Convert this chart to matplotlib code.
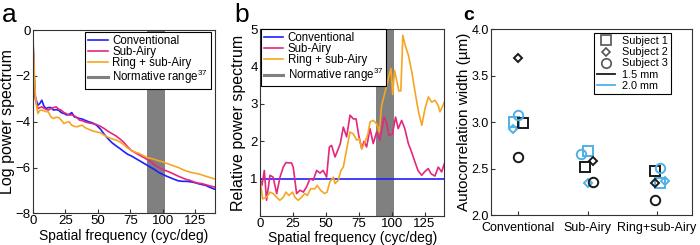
import matplotlib
matplotlib.use("Agg")
import matplotlib.pyplot as plt
from matplotlib.lines import Line2D

plt.rcParams["font.family"] = ["Liberation Sans", "DejaVu Sans"]
plt.rcParams["mathtext.default"] = "regular"

# ---- panel a: log power spectrum ----
freq_a = [0, 1, 2, 3, 4, 5.5, 7, 8.5, 10, 12, 14, 16, 18, 20, 22, 24, 26, 28, 30, 32, 34, 36, 38, 40,
          43, 46, 49, 52, 55, 58, 61, 64, 67, 70, 73, 76, 79, 82, 85, 88, 91, 94, 97, 100, 103, 106,
          109, 112, 115, 118, 121, 124, 127, 130, 133, 136, 140]
log_conv = [0, -1.8, -2.9, -3.1, -3.28, -3.2, -3.06, -3.3, -3.42, -3.38, -3.38, -3.49, -3.47, -3.5,
            -3.6, -3.64, -3.7, -3.68, -3.6, -3.79, -3.82, -3.86, -3.88, -3.93, -4.0, -4.05, -4.15,
            -4.32, -4.55, -4.75, -4.92, -5.05, -5.17, -5.3, -5.42, -5.5, -5.6, -5.7, -5.8, -5.9, -6.0,
            -6.1, -6.22, -6.3, -6.38, -6.45, -6.52, -6.58, -6.6, -6.6, -6.62, -6.65, -6.7, -6.74,
            -6.78, -6.86, -6.95]
log_sub = [0, -2.0, -3.0, -3.25, -3.42, -3.38, -3.35, -3.4, -3.45, -3.49, -3.42, -3.38, -3.35, -3.45,
           -3.5, -3.6, -3.65, -3.71, -3.7, -3.74, -3.82, -3.93, -3.95, -4.0, -4.05, -4.08, -4.12,
           -4.2, -4.3, -4.42, -4.52, -4.62, -4.75, -4.9, -5.1, -5.26, -5.36, -5.46, -5.55, -5.65,
           -5.75, -5.9, -6.0, -6.08, -6.15, -6.22, -6.3, -6.38, -6.45, -6.52, -6.56, -6.63, -6.68,
           -6.7, -6.75, -6.8, -6.85]
log_ring = [0, -1.5, -2.8, -3.3, -3.64, -3.5, -3.49, -3.52, -3.55, -3.57, -3.79, -3.86, -3.8, -3.82,
            -3.93, -4.08, -4.02, -4.0, -4.15, -4.2, -4.22, -4.18, -4.15, -4.25, -4.33, -4.4, -4.44,
            -4.48, -4.59, -4.68, -4.75, -4.8, -4.88, -5.0, -5.15, -5.26, -5.33, -5.39, -5.48, -5.57,
            -5.6, -5.65, -5.71, -5.75, -5.82, -5.88, -5.94, -6.0, -6.08, -6.15, -6.2, -6.24, -6.27,
            -6.32, -6.38, -6.43, -6.5]

# ---- panel b: relative power spectrum ----
freq_b_sub = [0, 1.5, 3.3, 5, 7.6, 10, 12.7, 15.2, 17.7, 19.7, 24, 25.3, 27.8, 30.4, 32.9, 35.4, 38,
              40.5, 43, 45.6, 48, 50.6, 52.7, 54.4, 57, 59.5, 61, 63.3, 65.8, 68.4, 70.9, 73, 75,
              77.3, 79, 81, 83.6, 86, 88.6, 91, 94.2, 96, 98, 100.6, 103, 105, 107.6, 110, 112.7,
              115.2, 117.7, 120, 122.8, 125, 127.8, 130, 132.9, 135.4, 138, 140]
rel_sub = [1.0, 0.82, 1.22, 0.42, 1.09, 1.04, 0.6, 1.04, 1.31, 1.43, 1.42, 1.3, 0.6, 0.69, 0.64,
           0.78, 1.0, 0.96, 1.22, 1.15, 1.22, 1.04, 1.85, 1.89, 1.58, 1.8, 1.94, 2.38, 2.12, 2.7,
           2.6, 2.6, 2.16, 1.8, 2.0, 1.85, 2.34, 1.94, 2.25, 2.03, 2.65, 2.52, 2.16, 2.2, 2.65,
           2.34, 2.56, 2.34, 1.94, 1.71, 1.45, 1.22, 1.09, 1.18, 1.27, 1.13, 1.07, 1.31, 1.18, 1.4]
freq_b_ring = [0, 2, 5, 7.6, 10, 12.7, 15, 17.7, 19.7, 22, 24.8, 26.6, 29, 31.6, 34, 36, 38.5, 41.8,
               43.5, 46, 49, 51, 53, 55.7, 57, 59.5, 61.5, 63.3, 65.9, 68.4, 70.9, 73.4, 75.5, 77.3,
               79.8, 82, 83.6, 86, 88.6, 90.6, 92.4, 95, 97.5, 99.5, 100.8, 102.2, 104, 105.5, 107,
               108.5, 110.3, 112.8, 115.3, 117.8, 120.4, 122.9, 125.4, 127.9, 130.4, 132.9, 135.4,
               136.7, 139, 140]
rel_ring = [1.0, 0.46, 0.5, 0.64, 0.6, 0.5, 0.42, 0.5, 0.64, 0.55, 0.64, 0.5, 0.42, 0.5, 0.6, 0.55,
            0.73, 0.73, 0.82, 0.69, 0.6, 0.64, 0.91, 1.04, 0.87, 0.96, 1.22, 1.31, 1.8, 2.25, 2.2,
            2.03, 2.07, 1.8, 1.98, 2.2, 2.52, 2.56, 2.47, 2.25, 2.96, 3.32, 3.68, 3.95, 3.25, 3.9,
            3.6, 3.35, 3.35, 4.84, 4.57, 4.3, 3.86, 3.32, 2.79, 2.43, 2.88, 3.19, 3.05, 3.1, 2.96,
            2.79, 2.96, 3.05]
normative_range = (88, 102)

# ---- panel c: autocorrelation width ----
groups = ["Conventional", "Sub-Airy", "Ring+sub-Airy"]
# s = subject 1, D = subject 2, o = subject 3; offsets shift points within a group
width_15 = {"s": [2.99, 2.52, 2.47], "D": [3.69, 2.58, 2.34], "o": [2.63, 2.36, 2.16]}
offset_15 = {"s": [0.07, -0.04, -0.03], "D": [0.0, 0.07, -0.03], "o": [0.0, 0.07, -0.03]}
width_20 = {"s": [3.0, 2.69, 2.34], "D": [2.93, 2.34, 2.37], "o": [3.08, 2.66, 2.51]}
offset_20 = {"s": [-0.07, 0.0, 0.05], "D": [-0.08, 0.0, 0.11], "o": [0.0, -0.1, 0.04]}

c_blue = "#1f1fff"
c_pink = "#e3287d"
c_orange = "#f5a623"
c_gray = "#808080"
c_black = "#1a1a1a"
c_light = "#4fb1e6"
spine_c = "#333333"

fig = plt.figure(figsize=(7, 2.45), dpi=100)
ax_a = fig.add_axes([0.0467, 0.129, 0.2604, 0.748])
ax_b = fig.add_axes([0.3714, 0.1184, 0.2633, 0.762])
ax_c = fig.add_axes([0.701, 0.1224, 0.287, 0.758])

for ax in (ax_a, ax_b, ax_c):
    ax.tick_params(direction="in", length=3, width=0.8, colors=spine_c, labelcolor="black",
                   top=False, right=False)
    for sp in ax.spines.values():
        sp.set_color(spine_c)
        sp.set_linewidth(0.8)

lw = 1.2
ax_a.axvspan(*normative_range, color=c_gray, lw=0)
ax_a.plot(freq_a, log_conv, color=c_blue, lw=lw, label="Conventional")
ax_a.plot(freq_a, log_sub, color=c_pink, lw=lw, label="Sub-Airy")
ax_a.plot(freq_a, log_ring, color=c_orange, lw=lw, label="Ring + sub-Airy")
ax_a.plot([], [], color=c_gray, lw=2.2, label="Normative range$^{37}$")
ax_a.set_xlim(0, 140)
ax_a.set_ylim(-8, 0)
ax_a.set_xticks([0, 25, 50, 75, 100, 125])
ax_a.set_yticks([-8, -6, -4, -2, 0])
ax_a.tick_params(labelsize=9.5, pad=1.5)
ax_a.set_xlabel("Spatial frequency (cyc/deg)", fontsize=10, labelpad=1)
ax_a.set_ylabel("Log power spectrum", fontsize=11.5)
ax_a.yaxis.set_label_coords(-0.095, 0.5)

ax_b.axvspan(*normative_range, color=c_gray, lw=0)
ax_b.plot([0, 140], [1, 1], color=c_blue, lw=lw, label="Conventional")
ax_b.plot(freq_b_sub, rel_sub, color=c_pink, lw=lw, label="Sub-Airy")
ax_b.plot(freq_b_ring, rel_ring, color=c_orange, lw=lw, label="Ring + sub-Airy")
ax_b.plot([], [], color=c_gray, lw=2.2, label="Normative range$^{37}$")
ax_b.set_xlim(0, 140)
ax_b.set_ylim(0, 5)
ax_b.set_xticks([0, 25, 50, 75, 100, 125])
ax_b.set_yticks([1, 2, 3, 4, 5])
ax_b.tick_params(labelsize=9.5, pad=1.5)
ax_b.set_xlabel("Spatial frequency (cyc/deg)", fontsize=10, labelpad=1)
ax_b.set_ylabel("Relative power spectrum", fontsize=11.5)
ax_b.yaxis.set_label_coords(-0.076, 0.5)

leg_kw = dict(fontsize=8.3, frameon=True, fancybox=False, edgecolor="black", framealpha=1,
              handlelength=1.7, handletextpad=0.4, labelspacing=-0.08, borderpad=0.25,
              borderaxespad=0)
leg = ax_a.legend(loc="upper right", bbox_to_anchor=(0.978, 0.99), **leg_kw)
leg.get_frame().set_linewidth(0.8)
leg = ax_b.legend(loc="upper left", bbox_to_anchor=(0.004, 1.0), **leg_kw)
leg.get_frame().set_linewidth(0.8)

sizes = {"s": 6.8, "D": 4.5, "o": 6.8}
for mk in ("s", "D", "o"):
    xs = [i + 1 + d for i, d in enumerate(offset_20[mk])]
    ax_c.plot(xs, width_20[mk], ls="none", marker=mk, ms=sizes[mk], mfc="none",
              mec=c_light, mew=1.4)
    xs = [i + 1 + d for i, d in enumerate(offset_15[mk])]
    ax_c.plot(xs, width_15[mk], ls="none", marker=mk, ms=sizes[mk], mfc="none",
              mec=c_black, mew=1.4)
ax_c.set_xlim(0.6, 3.5)
ax_c.set_ylim(2.0, 4.0)
ax_c.set_xticks([1, 2, 3])
ax_c.set_xticklabels(groups)
ax_c.set_yticks([2.0, 2.5, 3.0, 3.5, 4.0])
ax_c.set_yticklabels(["2.0", "2.5", "3.0", "3.5", "4.0"])
ax_c.tick_params(labelsize=9, pad=1.5)
ax_c.tick_params(axis="x", pad=5)
ax_c.set_ylabel("Autocorrelation width (\u00b5m)", fontsize=11)
ax_c.yaxis.set_label_coords(-0.1, 0.5)

handles = [
    Line2D([], [], ls="none", marker="s", ms=6.8, mfc="none", mec="#555555", mew=1.2),
    Line2D([], [], ls="none", marker="D", ms=4.5, mfc="none", mec="#555555", mew=1.2),
    Line2D([], [], ls="none", marker="o", ms=6.8, mfc="none", mec="#555555", mew=1.2),
    Line2D([], [], color=c_black, lw=1.3),
    Line2D([], [], color=c_light, lw=1.3),
]
labels = ["Subject 1", "Subject 2", "Subject 3", "1.5 mm", "2.0 mm"]
leg = ax_c.legend(handles, labels, loc="upper right", bbox_to_anchor=(0.897, 0.98), fontsize=7.8,
                  frameon=True, fancybox=False, edgecolor="black", framealpha=1,
                  handlelength=1.7, handletextpad=0.6, labelspacing=0.1, borderpad=0.3,
                  borderaxespad=0)
leg.get_frame().set_linewidth(0.8)

fig.text(0.002, 0.911, "a", fontsize=19)
fig.text(0.335, 0.911, "b", fontsize=19)
fig.text(0.662, 0.918, "c", fontsize=14, fontweight="bold")

fig.savefig("out.png", dpi=100)
